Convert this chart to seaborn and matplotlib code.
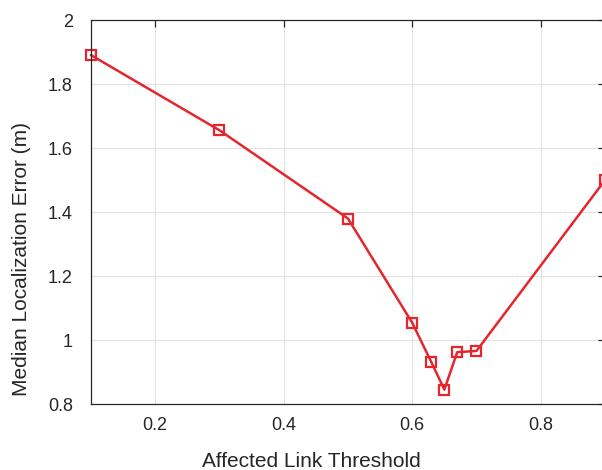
import matplotlib
matplotlib.use("Agg")
import matplotlib.pyplot as plt
import seaborn as sns
import pandas as pd

thresholds = [0.1, 0.3, 0.5, 0.6, 0.63, 0.65, 0.67, 0.7, 0.9]
median_error = [1.891, 1.656, 1.38, 1.054, 0.930, 0.845, 0.962, 0.966, 1.5]
x_ticks = [0.2, 0.4, 0.6, 0.8]
y_ticks = [0.8, 1.0, 1.2, 1.4, 1.6, 1.8, 2.0]
y_tick_labels = ["0.8", "1", "1.2", "1.4", "1.6", "1.8", "2"]

sns.set_style("white")
plt.rcParams["font.family"] = ["Liberation Sans", "DejaVu Sans"]

df = pd.DataFrame({"threshold": thresholds, "error": median_error})

fig = plt.figure(figsize=(6.02, 4.70), dpi=100)
ax = fig.add_axes([0.151, 0.1404, 0.854, 0.8166])

sns.lineplot(data=df, x="threshold", y="error", ax=ax, color="#e4262f",
             linewidth=1.8, marker="s", markersize=6.5, markerfacecolor="none",
             markeredgecolor="#e4262f", markeredgewidth=1.6, clip_on=False)

ax.set_xlim(0.1, 0.9)
ax.set_ylim(0.8, 2.0)
ax.set_xticks(x_ticks)
ax.set_yticks(y_ticks)
ax.set_yticklabels(y_tick_labels)
ax.grid(True, color="#e2e2e2", linewidth=0.8)
ax.set_axisbelow(True)

for side in ["left", "bottom", "top", "right"]:
    ax.spines[side].set_visible(True)
    ax.spines[side].set_color("#262626")
    ax.spines[side].set_linewidth(0.9)

ax.tick_params(direction="in", length=5, width=0.9, colors="#262626",
               labelsize=13, top=True, right=True)
ax.tick_params(axis="x", pad=9)
ax.tick_params(axis="y", pad=13)
for lbl in ax.get_xticklabels() + ax.get_yticklabels():
    lbl.set_color("#262626")

ax.set_xlabel("Affected Link Threshold", fontsize=15, color="#262626", labelpad=13)
ax.set_ylabel("Median Localization Error (m)", fontsize=15, color="#262626", labelpad=12)
ax.xaxis.label.set_x(0.428)
ax.yaxis.label.set_y(0.378)

fig.savefig("out.png", dpi=100)
